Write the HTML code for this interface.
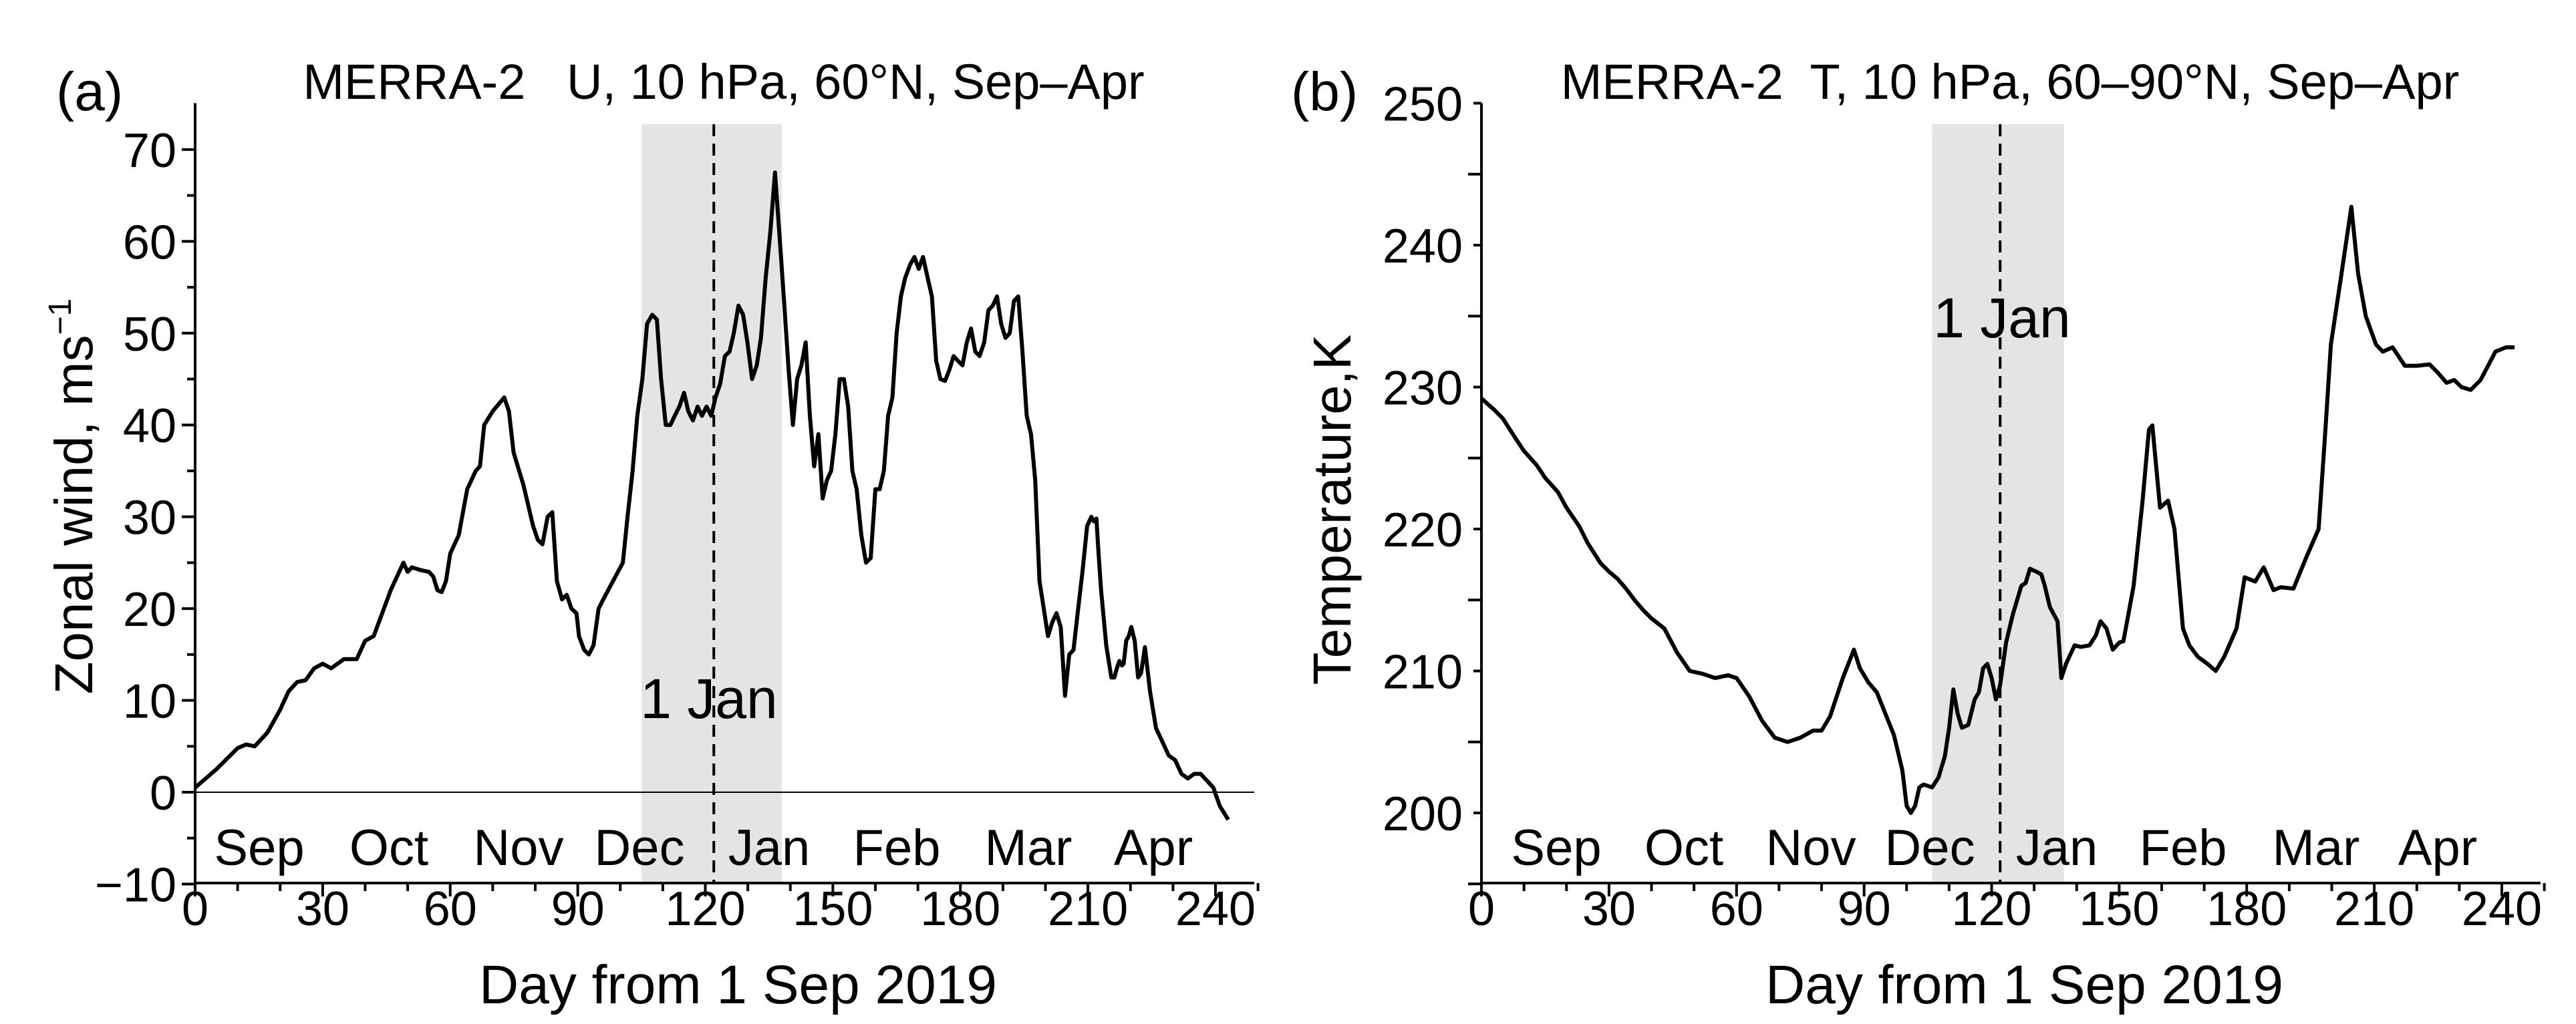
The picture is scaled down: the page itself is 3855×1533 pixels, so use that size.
<!DOCTYPE html>
<html><head><meta charset="utf-8"><style>
html,body{margin:0;padding:0;background:#fff;}
svg{display:block;font-family:"Liberation Sans",Arial,sans-serif;}
text{white-space:pre;}
</style></head><body>
<svg id="fig" width="3855" height="1533" viewBox="0 0 3855 1533" xmlns="http://www.w3.org/2000/svg">
<g id="pa"></g>
<g id="pb"></g>
</svg>
<script>
const xTicks=[0,30,60,90,120,150,180,210,240];
const months=["Sep","Oct","Nov","Dec","Jan","Feb","Mar","Apr"];
const aYTicks=[-10,0,10,20,30,40,50,60,70];
const bYTicks=[200,210,220,230,240,250];
const aDays=[0,5,10,12,14,17,20,22,24,26,28,30,32,35,38,40,42,44,46,48,49,50,51,53,55,56,57,58,59,60,62,64,66,67,68,70,72.7,73.8,74.9,77.2,79.5,80.6,81.7,82.9,84,85.1,86.3,87.4,88.5,89.7,90.3,91.5,92.6,93.7,94.9,96,98.3,100.6,101.7,102.9,104,105.2,106.3,107.5,108.6,109.6,110.7,111.8,112.8,113.9,115,116,117.1,118.2,119.2,120.3,121.4,122.4,123.5,124.6,125.7,126.7,127.8,128.9,129.9,131,132.1,133.1,134.2,135.3,136.4,137.4,138.6,139.6,140.6,141.6,142.6,143.6,144.6,145.6,146.6,147.6,148.6,149.6,150.6,151.6,152.6,153.6,154.6,155.6,156.7,157.8,158.9,160,161,162,163,164,165,166,167,168.2,169.2,170.2,171.2,172.3,173.3,174.3,175.3,176.4,177.4,178.4,179.4,180.5,181.5,182.5,183.5,184.5,185.6,186.6,187.6,188.6,189.6,190.6,191.6,192.6,193.6,194.6,195.6,196.6,197.6,198.6,199.6,200.6,201.6,202.6,203.6,204.6,205.6,206.6,207.7,208.7,209.8,210.8,211.4,212,212.5,213.1,214.3,215.5,216.2,216.8,217.4,218,218.4,219,219.6,220.2,221,221.8,222.5,223.4,224.6,226,227.5,229,230.5,232,233.5,235,236.5,237.5,239.5,241,243];
const aVals=[0.5,2.5,4.8,5.2,5,6.5,9,11,12,12.2,13.5,14,13.5,14.5,14.5,16.5,17,19.5,22,24,25,24,24.5,24.2,24,23.5,22,21.8,23,26,28,33,35,35.5,40,41.5,43,41.5,37,33.5,29,27.5,27,30,30.5,23,21,21.5,20,19.5,17,15.5,15,16,20,21,23,25,30,35,41,45,51,52,51.5,45,40,40,41,42,43.5,41.5,40.5,42,41,42,41,43,44.5,47.5,48,50,53,52,49,45,46.5,49.5,56,61,67.5,61,53,46,40,45,46.5,49,41,35.5,39,32,34,35,39,45,45,42,35,33,28,25,25.5,33,33,35,41,43,50,54,56,57.5,58.3,57,58.3,56,54,47,45,44.8,46,47.5,47,46.5,49,50.5,48,47.5,49,52.5,53,54,51,49.5,50,53.5,54,48,41,39,34,23,20,17,18.5,19.5,18,10.5,15,15.5,20,24,29,30,29.5,29.8,26,22,16,12.5,12.5,13.5,14.3,13.8,14,16.5,17,18,16.5,12.5,13,15.8,11,7,5.5,4,3.5,2,1.5,2,2,1.5,0.5,-1.5,-3];
const bDays=[0,3,5,8,10,13,15,18,20,23,25,28,30,32,34,36,38,40,43,46,49,52,55,58,60,63,66,69,72,75,78,80,82,85,87.6,89,91,93,95,97,99,100,101,102,103,104,106,107.5,109,110,111,112,113,114.5,116,117,118,119,120,121,122,123.4,125,127,128,129,130.5,131.7,132.5,133.7,134.6,135.5,136.4,137.5,139.5,141,143,144.5,145.6,147,148.5,150,151,153.4,155.5,157,157.8,159.6,161.5,163,165,166.5,168.5,170.8,172.7,174.7,177.6,179.5,182,184,186.3,188,191,194,196.9,198.5,199.8,202.3,204.6,206.2,208,210.4,212,214.3,217.2,220,223,225,227,228.8,230.5,232.7,235,238.5,241,243];
const bVals=[229.2,228.4,227.8,226.4,225.5,224.5,223.6,222.6,221.5,220.2,219,217.6,217,216.5,215.8,215,214.3,213.7,213,211.3,210,209.8,209.5,209.7,209.5,208.2,206.5,205.3,205,205.3,205.8,205.8,206.8,209.5,211.5,210.2,209.2,208.5,207,205.5,203,200.5,200,200.5,201.8,202,201.8,202.5,204,206,208.7,207,206,206.2,208,208.5,210.2,210.5,209.5,208,209,212,214,216,216.2,217.2,217,216.8,216,214.5,214,213.5,209.5,210.5,211.8,211.7,211.8,212.5,213.5,213,211.5,212,212.1,216,222,227,227.3,221.5,222,220,213,211.8,211,210.5,210,211,213,216.6,216.3,217.3,215.7,215.9,215.8,218,220,227,233,238,242.7,238,235,233,232.5,232.8,231.5,231.5,231.6,231,230.3,230.5,230,229.8,230.5,232.5,232.8,232.8];

const NS="http://www.w3.org/2000/svg";
function mk(parent,tag,attrs,text){const e=document.createElementNS(NS,tag);for(const k in attrs)e.setAttribute(k,attrs[k]);if(text!==undefined)e.textContent=text;parent.appendChild(e);return e;}

function drawPanel(g,o){
  const X=d=>o.x0+(d-0)*(o.x240-o.x0)/240;
  const Y=v=>o.yA+(v-o.vA)*(o.yB-o.yA)/(o.vB-o.vA);
  const top=154.5,bot=1322;
  const sh=mk(g,'rect',{x:X(o.shade[0]),y:186,width:X(o.shade[1])-X(o.shade[0]),height:bot-186,fill:'#e4e4e4'});
  
  
  if(o.zero){const z=mk(g,'line',{x1:o.x0,x2:o.xEnd,y1:Y(0),y2:Y(0),stroke:'#000','stroke-width':2});
    
    }
  const dl=mk(g,'line',{x1:X(122),x2:X(122),y1:186,y2:bot,stroke:'#000','stroke-width':4,'stroke-dasharray':'18,11'});
  
  
  const ax=mk(g,'path',{d:`M${o.x0},${top}V${bot}H${o.xEnd}`,fill:'none',stroke:'#000','stroke-width':4});
  
  
  for(let d=0;d<=250;d+=10){const maj=d%30===0;mk(g,'line',{x1:X(d),x2:X(d),y1:bot,y2:bot+(maj?20:12),stroke:'#000','stroke-width':4});}
  for(let v=o.vMin;v<=o.vMax;v+=5){const maj=(v-o.vMin)%10===0;mk(g,'line',{x1:o.x0,x2:o.x0-(maj?20:12),y1:Y(v),y2:Y(v),stroke:'#000','stroke-width':4});}
  xTicks.forEach(t=>{const e=mk(g,'text',{x:X(t),y:1385,'font-size':72,'text-anchor':'middle'},String(t));
    
    });
  o.yTicks.forEach(t=>{const e=mk(g,'text',{x:o.x0-28,y:Y(t)+26,'font-size':72,'text-anchor':'end'},t<0?'\u2212'+(-t):String(t));
    
    });
  months.forEach((m,i)=>{const e=mk(g,'text',{x:o.monthX[i],y:1295,'font-size':76,'text-anchor':'middle'},m);
    
    });
  const jl=mk(g,'text',{x:o.janX,y:o.janY,'font-size':84,'text-anchor':'middle'},'1 Jan');
  
  
  const xt=mk(g,'text',{x:(o.x0+o.xEnd)/2+20,y:1502,'font-size':82,'text-anchor':'middle'},'Day from 1 Sep 2019');
  
  
  const yt=mk(g,'text',{x:0,y:0,'font-size':80,'text-anchor':'middle',transform:`translate(${o.ytX},${o.ytY}) rotate(-90)`},o.yTitle);
  if(o.sup){mk(yt,'tspan',{'font-size':48,dy:-32},'\u22121');}
  
  
  const ti=mk(g,'text',{x:o.titleX,y:148,'font-size':74,'text-anchor':'middle'},o.title);
  
  
  const pl=mk(g,'text',{x:o.labX,y:165,'font-size':82},o.lab);
  
  
  const pts=o.days.map((d,i)=>X(d).toFixed(1)+','+Y(o.vals[i]).toFixed(1)).join(' ');
  const ln=mk(g,'polyline',{points:pts,fill:'none',stroke:'#000','stroke-width':6,'stroke-linejoin':'round'});
  
  
}
drawPanel(document.getElementById('pa'),{x0:292,x240:1819,xEnd:1877,yA:1186,vA:0,yB:223.9,vB:70,vMin:-10,vMax:70,yTicks:aYTicks,
  shade:[105,138],zero:true,monthX:[388,582,776,957,1151,1342,1539,1726],janX:1061,janY:1075,ytX:138,ytY:743,
  yTitle:'Zonal wind, ms',sup:true,title:'MERRA-2   U, 10 hPa, 60°N, Sep–Apr',titleX:1083,lab:'(a)',labX:84,days:aDays,vals:aVals});
drawPanel(document.getElementById('pb'),{x0:2217,x240:3744,xEnd:3802,yA:1217,vA:200,yB:154.5,vB:250,vMin:195,vMax:250,yTicks:bYTicks,
  shade:[106,137],zero:false,monthX:[2329,2520,2710,2888,3078,3267,3466,3648],janX:2996,janY:505,ytX:2021,ytY:763,
  yTitle:'Temperature,K',sup:false,title:'MERRA-2  T, 10 hPa, 60–90°N, Sep–Apr',titleX:3008,lab:'(b)',labX:1932,days:bDays,vals:bVals});
</script>
</body></html>
